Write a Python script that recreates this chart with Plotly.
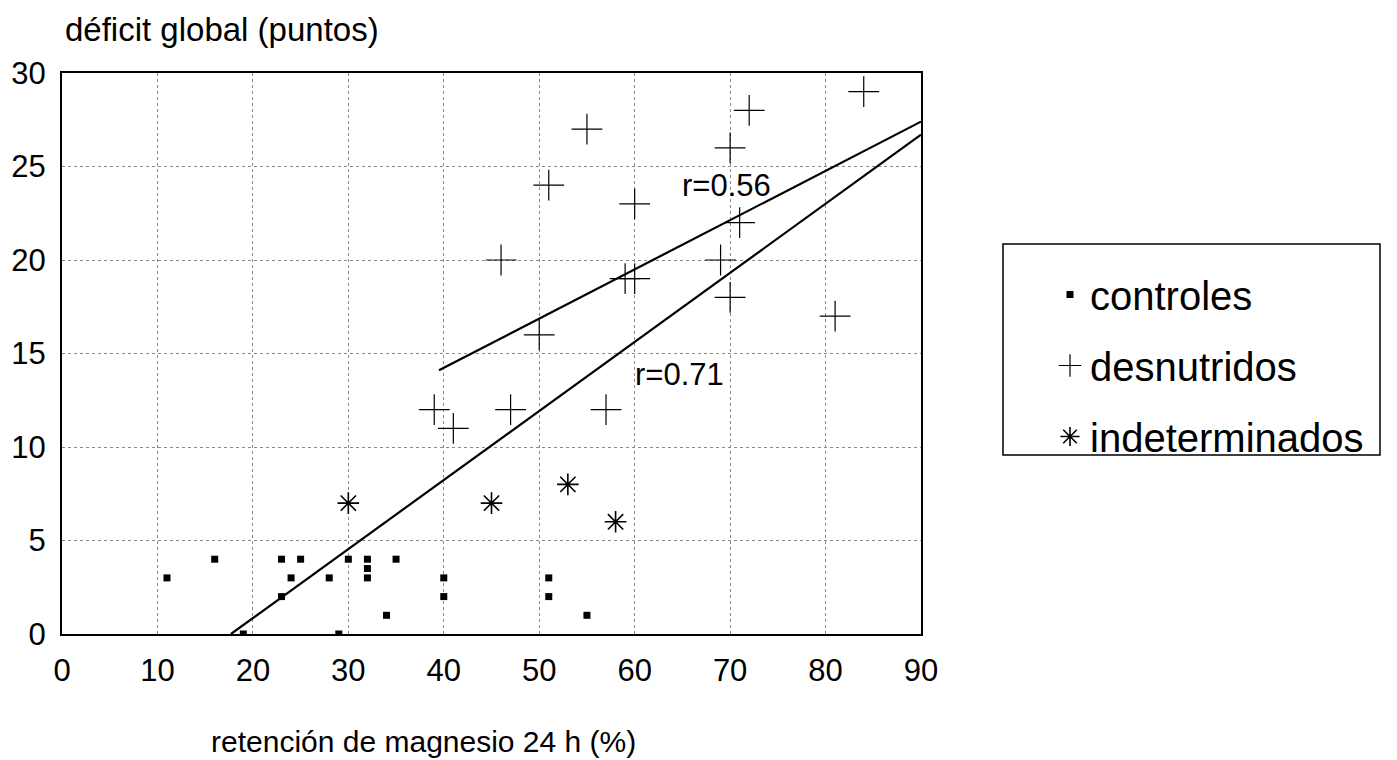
import plotly.graph_objects as go

# ---- data ----
ctrl_x = [11, 16, 19, 23, 23, 24, 25, 28, 29, 30, 32, 32, 32, 34, 35, 40, 40, 51, 51, 55]
ctrl_y = [3, 4, 0, 4, 2, 3, 4, 3, 0, 4, 4, 3.5, 3, 1, 4, 3, 2, 3, 2, 1]

desn_x = [39, 41, 46, 47, 50, 51, 55, 57, 59, 60, 60, 69, 70, 70, 71, 72, 81, 84]
desn_y = [12, 11, 20, 12, 16, 24, 27, 12, 19, 19, 23, 20, 18, 26, 22, 28, 17, 29]

indet_x = [30, 45, 53, 58]
indet_y = [7, 7, 8, 6]

# regression lines (end points)
fit056_x = [39.5, 90]
fit056_y = [14.1, 27.4]
fit071_x = [17.7, 90]
fit071_y = [0, 26.7]

r_labels = ["r=0.56", "r=0.71"]
r_label_x = [64.7, 59.8]
r_label_y = [24.0, 13.9]

x_ticks = [0, 10, 20, 30, 40, 50, 60, 70, 80, 90]
y_ticks = [0, 5, 10, 15, 20, 25, 30]

series_names = ["controles", "desnutridos", "indeterminados"]

FONT = "Liberation Sans, Arial, Helvetica, sans-serif"
OFF = 8  # page body margin
W, H = 1397 - OFF, 760 - OFF
L, R, T, B = 62 - OFF, 921 - OFF, 73 - OFF, 634 - OFF  # plot area in figure pixels
PW, PH = R - L, B - T


def px(xs):
    """screen x pixel -> paper coordinate"""
    return (xs - OFF - L) / PW


def py(ys):
    """screen y pixel -> paper coordinate"""
    return (B - (ys - OFF)) / PH


fig = go.Figure()

fig.add_trace(go.Scatter(x=fit056_x, y=fit056_y, mode="lines",
                         line=dict(color="black", width=2.2), showlegend=False,
                         hoverinfo="skip"))
fig.add_trace(go.Scatter(x=fit071_x, y=fit071_y, mode="lines",
                         line=dict(color="black", width=2.2), showlegend=False,
                         hoverinfo="skip"))

fig.add_trace(go.Scatter(x=ctrl_x, y=ctrl_y, mode="markers", name=series_names[0],
                         legendgroup="a",
                         marker=dict(symbol="square", size=7, color="black",
                                     line=dict(width=0))))
fig.add_trace(go.Scatter(x=desn_x, y=desn_y, mode="markers", name=series_names[1],
                         legendgroup="b",
                         marker=dict(symbol="cross-thin-open", size=22, color="black",
                                     line=dict(width=1.2, color="black"))))
fig.add_trace(go.Scatter(x=indet_x, y=indet_y, mode="markers", name=series_names[2],
                         legendgroup="c",
                         marker=dict(symbol="asterisk-open", size=18, color="black",
                                     line=dict(width=1.6, color="black"))))

axis_common = dict(showgrid=True, gridcolor="#8a8a8a", gridwidth=1, griddash="dot",
                   showline=True, mirror=True, linecolor="black", linewidth=2,
                   zeroline=False, ticks="", automargin=False,
                   tickfont=dict(family=FONT, size=31, color="black"))

fig.update_layout(
    width=W, height=H,
    margin=dict(l=L, r=W - R, t=T, b=H - B, autoexpand=False),
    paper_bgcolor="white", plot_bgcolor="white",
    font=dict(family=FONT, color="black"),
    xaxis=dict(range=[0, 90], tickvals=x_ticks, ticklabelstandoff=8, **axis_common),
    yaxis=dict(range=[0, 30], tickvals=y_ticks, ticklabelstandoff=8, **axis_common),
    legend=dict(x=px(1050), y=py(262), xanchor="left", yanchor="top",
                font=dict(family=FONT, size=40, color="black"),
                bgcolor="rgba(0,0,0,0)", borderwidth=0,
                traceorder="grouped", tracegroupgap=16, itemwidth=30),
    shapes=[dict(type="rect", xref="paper", yref="paper",
                 x0=px(1003), x1=px(1380), y0=py(455), y1=py(244),
                 line=dict(color="black", width=1.5))],
)

fig.add_annotation(text="déficit global (puntos)", xref="paper", yref="paper",
                   x=px(63), y=py(30), xanchor="left", yanchor="middle",
                   showarrow=False, font=dict(family=FONT, size=33, color="black"))
fig.add_annotation(text="retención de magnesio 24 h (%)", xref="paper", yref="paper",
                   x=px(423), y=py(741), xanchor="center", yanchor="middle",
                   showarrow=False, font=dict(family=FONT, size=30, color="black"))

for t, lx, ly in zip(r_labels, r_label_x, r_label_y):
    fig.add_annotation(text=t, x=lx, y=ly, xref="x", yref="y", xanchor="left",
                       yanchor="middle", showarrow=False,
                       font=dict(family=FONT, size=31, color="black"))

fig.write_html("out.html")
